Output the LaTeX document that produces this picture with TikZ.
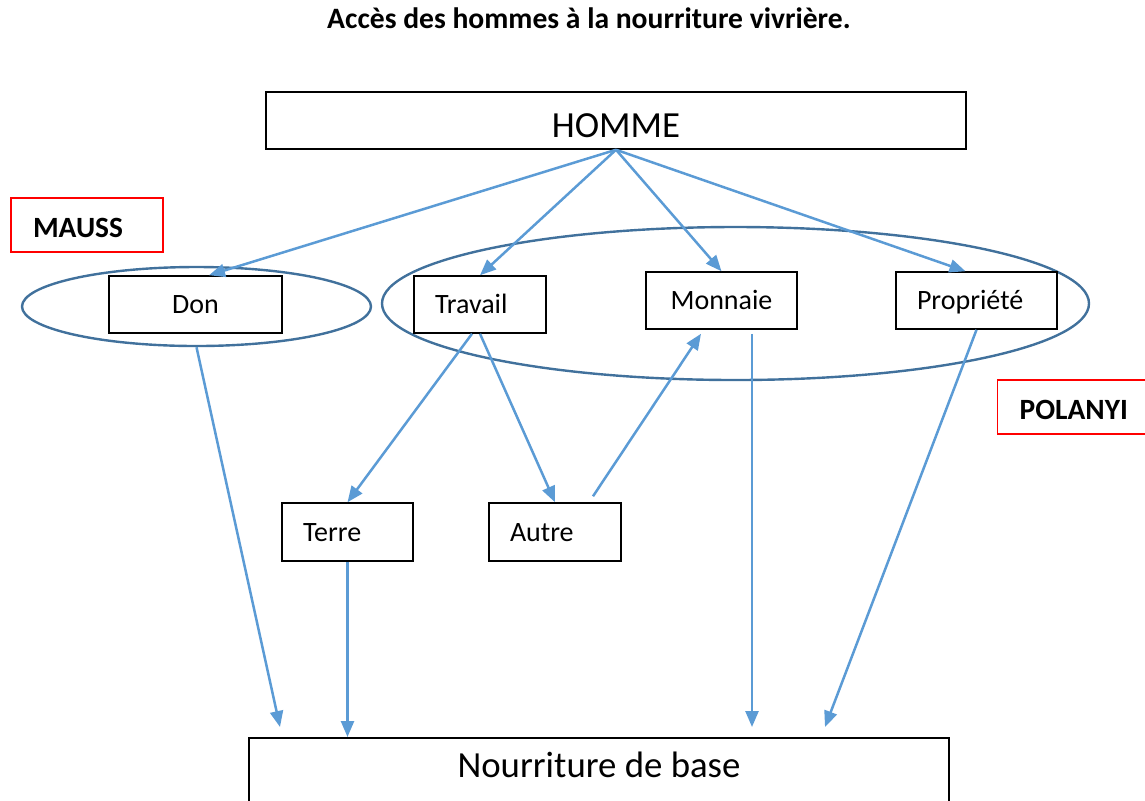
\documentclass[tikz,border=0pt]{standalone}
\usepackage{fontspec}
\setmainfont{Carlito}
\usetikzlibrary{shapes.geometric,arrows.meta,calc}
\definecolor{arrowblue}{HTML}{5B9BD5}
\definecolor{ringblue}{HTML}{41719C}
\definecolor{tagred}{HTML}{FF0000}

\begin{document}
\begin{tikzpicture}[x=0.5pt,y=-0.5pt]
    \tikzstyle{box}=[rectangle, draw, fill=white, line width=0.75pt, minimum height=28.5pt, inner ysep=0pt, font=\fontsize{14}{16}\selectfont, text height=9pt, text depth=0pt]
    \tikzstyle{lbox}=[box, align=left, inner xsep=10.5pt]
    \tikzstyle{bigbox}=[rectangle, draw, fill=white, line width=0.75pt, minimum width=350pt, inner ysep=0pt, font=\fontsize{18.4}{21}\selectfont]
    \tikzstyle{tag}=[rectangle, draw=tagred, line width=0.7pt, minimum height=27pt, inner xsep=11pt, inner ysep=0pt, align=left, font=\bfseries\fontsize{14.7}{17}\selectfont, text height=12.3pt, text depth=0pt]
    \tikzstyle{ring}=[ellipse, draw=ringblue, line width=1.2pt, inner sep=0pt]
    \tikzstyle{link}=[draw=arrowblue, line width=1.25pt, -{Triangle[length=8pt,width=6.5pt]}]

    \useasboundingbox (0,0) rectangle (1145,800);

    \node[font=\bfseries\fontsize{14.8}{17}\selectfont, anchor=base] (title) at (589,28) {Accès des hommes à la nourriture vivrière.};

    % the two groups
    \node[ring, minimum width=174.5pt, minimum height=39.5pt] (gift) at (196.5,306.5) {};
    \node[ring, minimum width=353.5pt, minimum height=76.5pt] (exchange) at (735.5,303.5) {};

    \node[bigbox, minimum height=28.5pt, text height=16.8pt, text depth=0pt] (homme) at (616,120.5) {HOMME};
    \node[tag, text width=54pt] (mauss) at (87,225) {MAUSS};
    \node[tag, text width=80pt, anchor=west] (polanyi) at (997,407) {POLANYI};

    \node[box, minimum width=86.5pt] (don) at (195.5,304.5) {Don};
    \node[lbox, text width=45pt] (travail) at (480,304.5) {Travail};
    \node[box, minimum width=75.5pt] (monnaie) at (721.5,300.5) {Monnaie};
    \node[lbox, text width=59.5pt] (propriete) at (976.5,300.5) {Propriété};
    \node[lbox, text width=44.5pt, minimum height=29pt] (terre) at (347.5,532) {Terre};
    \node[lbox, text width=45pt, minimum height=29pt] (autre) at (555,532) {Autre};
    \node[bigbox, anchor=north, text height=20pt, text depth=40pt] (base) at (599,737) {Nourriture de base};

    \path (homme.south) edge[link] ($(don.north)+(13.5,0)$)
                        edge[link] (travail.north)
                        edge[link] (monnaie.north)
                        edge[link] ($(propriete.north)+(-11,0)$);

    \path (gift.south) edge[link] ($(base.north)+(-319,-10)$);
    \path ($(travail.south)+(-8,0)$) edge[link] (terre.north);
    \path (travail.south) edge[link] (autre.north);
    \path ($(autre.north)+(38,-6)$) edge[link] ($(monnaie.south)+(-20.5,4)$);
    \path ($(monnaie.south)+(30.5,4)$) edge[link] ($(base.north)+(153,-10)$);
    \path (terre.south) edge[link] ($(base.north)+(-251.5,0)$);
    \path (propriete.south) edge[link] ($(base.north)+(226,-10)$);
\end{tikzpicture}
\end{document}
